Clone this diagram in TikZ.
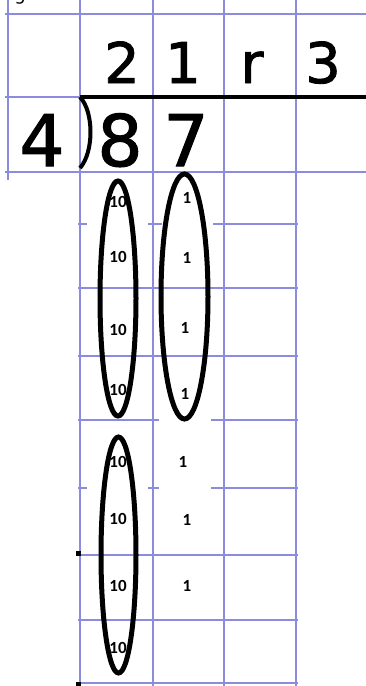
\documentclass[tikz,border=0pt]{standalone}
\usepackage{fontspec}
\setmainfont{DejaVu Sans}
\newfontfamily\digitfont[FakeBold=1.6]{DejaVu Sans}
\newfontfamily\countfont{Carlito}
\definecolor{gridblue}{RGB}{140,140,222}
\tikzset{
  gridline/.style={draw=gridblue, line width=2.8pt},
  bigdigit/.style={anchor=base, inner sep=0pt, font=\digitfont\fontsize{56}{60}\selectfont},
  divdigit/.style={anchor=base, inner sep=0pt, font=\digitfont\fontsize{71}{75}\selectfont},
  count/.style={inner sep=0pt, font=\countfont\bfseries\fontsize{17}{18}\selectfont},
  group/.style={draw=black, line width=5pt},
  patch/.style={fill=white},
}
\begin{document}
\begin{tikzpicture}[x=1pt, y=-1pt]
  \useasboundingbox (0,0) rectangle (366,686);
  % cut-off letter above the grid
  \node[anchor=base, inner sep=0pt, font=\fontsize{18}{20}\selectfont] (frag) at (20,0) {g};
  % Top: grid for quotient and dividend
  \foreach \gy in {14, 97, 172}
    \draw[gridline] (5,\gy) -- (366,\gy);
  \draw[gridline] (8,0) -- (8,180);
  \foreach \gx in {80, 153, 224, 296}
    \draw[gridline] (\gx,0) -- (\gx,686);
  % Bottom: grid for the groups
  \foreach \gy in {224, 288, 356, 420, 488, 555, 620, 683}
    \draw[gridline] (78,\gy) -- (298,\gy);
  \fill[patch] (87,180) rectangle (148,282);
  \fill[patch] (162,173) rectangle (213,226);
  \fill[patch] (159,358) rectangle (211,490);
  \fill[patch] (87,425) rectangle (148,490);
  \fill (76,551) rectangle (81,556);
  \fill (76,682) rectangle (81,686);
  % quotient
  \node[bigdigit] (q2) at (122,83) {2};
  \node[bigdigit] (q1) at (183,83) {1};
  \node[bigdigit] (qr) at (252,83) {r};
  \node[bigdigit] (q3) at (323,83) {3};
  % divisor and dividend
  \node[divdigit] (dv) at (42,166) {4};
  \node[divdigit] (d8) at (120,166) {8};
  \node[divdigit] (d7) at (186,166) {7};
  \draw[line width=4.5pt] (80,97) -- (366,97);
  \draw[line width=4pt] (80,97) .. controls (94,112) and (94,152) .. (80,168);
  % tens and ones
  \foreach \ty [count=\i] in {202, 257, 330, 390, 462, 519, 586, 648}
    \node[count] (t\i) at (118,\ty) {10};
  \foreach \ox/\oy [count=\i] in {187/198, 187/258, 185/328, 185/394, 183/462, 187/520, 187/586}
    \node[count] (o\i) at (\ox,\oy) {1};
  % groups of four
  \draw[group] (118,298.5) ellipse [x radius=18pt, y radius=117.5pt];
  \draw[group] (184.5,296.5) ellipse [x radius=23.5pt, y radius=122.5pt];
  \draw[group] (118.5,555) ellipse [x radius=17.5pt, y radius=118pt];
\end{tikzpicture}
\end{document}
